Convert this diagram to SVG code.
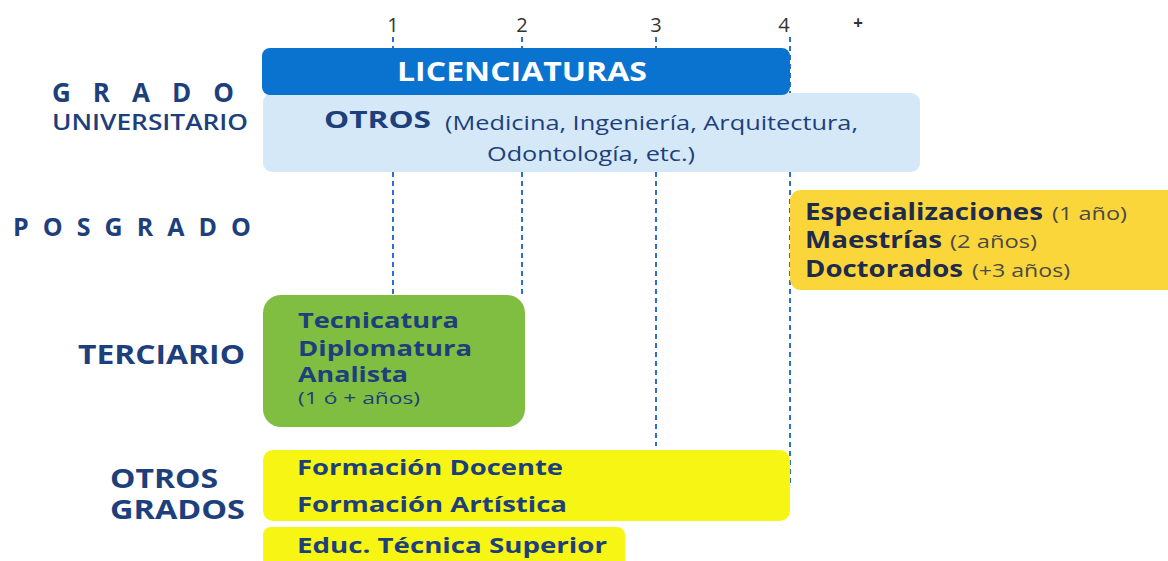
<svg xmlns="http://www.w3.org/2000/svg" width="1168" height="561" viewBox="0 0 1168 561">
<style>
text{font-family:"Open Sans","Noto Sans","Liberation Sans",sans-serif;}
.lbl{fill:#1d3f7c;font-weight:700;}
.num{fill:#333;font-size:20px;text-anchor:middle;}
.dash{stroke:#2d6fd0;stroke-width:2;stroke-dasharray:5 4;fill:none;}
.t{fill:#1d3f7c;font-weight:700;}
.r{font-weight:400;}
.pt{fill:#1e2b4c;font-weight:700;font-size:23px;}
.pr{fill:#4a4a4a;font-weight:400;font-size:18px;}
</style>
<rect width="1168" height="561" fill="#ffffff"/>
<g id="scale">
<text class="num" x="393" y="32">1</text>
<text class="num" x="522" y="32">2</text>
<text class="num" x="656" y="32">3</text>
<text class="num" x="784" y="32">4</text>
<text class="num" x="858" y="29" style="font-weight:700;font-size:17px">+</text>
</g>
<g id="connectors">
<line class="dash" x1="393" y1="37" x2="393" y2="295"/>
<line class="dash" x1="522" y1="37" x2="522" y2="295"/>
<line class="dash" x1="656" y1="37" x2="656" y2="446"/>
<line class="dash" x1="790" y1="37" x2="790" y2="484"/>
</g>
<g id="labels">
<text class="lbl" x="52" y="102" font-size="26" textLength="182" lengthAdjust="spacing">GRADO</text>
<text class="lbl" x="52" y="130" font-size="21" style="font-weight:600" textLength="196" lengthAdjust="spacingAndGlyphs">UNIVERSITARIO</text>
<text class="lbl" x="13" y="236" font-size="25" textLength="238" lengthAdjust="spacing">POSGRADO</text>
<text class="lbl" x="78" y="364" font-size="26" textLength="167" lengthAdjust="spacingAndGlyphs">TERCIARIO</text>
<text class="lbl" x="110" y="488" font-size="26" textLength="108" lengthAdjust="spacingAndGlyphs">OTROS</text>
<text class="lbl" x="110" y="519" font-size="26" textLength="135" lengthAdjust="spacingAndGlyphs">GRADOS</text>
</g>
<g id="otros-univ">
<rect x="263" y="93" width="657" height="79" rx="9" fill="#d5e8f8"/>
<text x="324" y="128" class="t" font-size="23" textLength="107" lengthAdjust="spacingAndGlyphs">OTROS</text>
<text x="445" y="130" class="t r" font-size="20" textLength="413" lengthAdjust="spacingAndGlyphs">(Medicina, Ingeniería, Arquitectura,</text>
<text x="487" y="161" class="t r" font-size="20" textLength="208" lengthAdjust="spacingAndGlyphs">Odontología, etc.)</text>
</g>
<g id="licenciaturas">
<rect x="262" y="48" width="528" height="47" rx="8" fill="#0a72cf"/>
<text x="397" y="81" fill="#ffffff" font-weight="700" font-size="26" textLength="250" lengthAdjust="spacingAndGlyphs">LICENCIATURAS</text>
</g>
<g id="posgrado">
<rect x="790" y="190" width="390" height="100" rx="11" fill="#fbd63a"/>
<text x="805" y="220" class="pt" textLength="238" lengthAdjust="spacingAndGlyphs">Especializaciones</text>
<text x="1052" y="220" class="pr" textLength="75" lengthAdjust="spacingAndGlyphs">(1 año)</text>
<text x="805" y="248" class="pt" textLength="137" lengthAdjust="spacingAndGlyphs">Maestrías</text>
<text x="950" y="248" class="pr" textLength="87" lengthAdjust="spacingAndGlyphs">(2 años)</text>
<text x="805" y="277" class="pt" textLength="158" lengthAdjust="spacingAndGlyphs">Doctorados</text>
<text x="972" y="277" class="pr" textLength="98" lengthAdjust="spacingAndGlyphs">(+3 años)</text>
</g>
<g id="terciario">
<rect x="263" y="295" width="262" height="132" rx="18" fill="#7fbe40"/>
<text x="298" y="328" class="t" font-size="21" textLength="161" lengthAdjust="spacingAndGlyphs">Tecnicatura</text>
<text x="298" y="356" class="t" font-size="21" textLength="174" lengthAdjust="spacingAndGlyphs">Diplomatura</text>
<text x="298" y="382" class="t" font-size="21" textLength="110" lengthAdjust="spacingAndGlyphs">Analista</text>
<text x="298" y="404" class="t r" font-size="16" fill="#2a5a8a" textLength="122" lengthAdjust="spacingAndGlyphs">(1 ó + años)</text>
</g>
<g id="formacion">
<rect x="263" y="450" width="527" height="71" rx="10" fill="#f7f514"/>
<text x="297" y="475" class="t" font-size="22" textLength="266" lengthAdjust="spacingAndGlyphs">Formación Docente</text>
<text x="297" y="512" class="t" font-size="22" textLength="270" lengthAdjust="spacingAndGlyphs">Formación Artística</text>
</g>
<g id="educ-tecnica">
<rect x="263" y="527" width="362" height="50" rx="8" fill="#f7f514"/>
<text x="297" y="553" class="t" font-size="22" textLength="310" lengthAdjust="spacingAndGlyphs">Educ. Técnica Superior</text>
</g>
</svg>
